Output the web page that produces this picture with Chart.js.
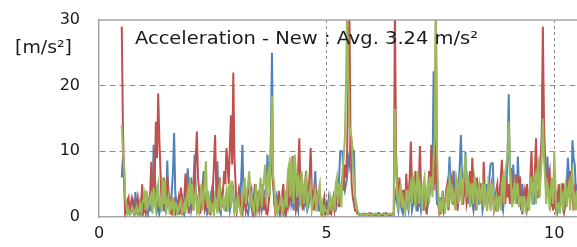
<!DOCTYPE html>
<html>
<head>
<meta charset="utf-8">
<script src="https://cdn.jsdelivr.net/npm/chart.js@4.4.0/dist/chart.umd.min.js"></script>
<style>
  html, body { margin: 0; padding: 0; background: #fff; }
  #chart { display: block; }
</style>
</head>
<body>
<canvas id="chart" width="577" height="247"></canvas>
<script>
// sample times [s]
const time = [
  0.5,0.525,0.55,0.575,0.6,0.625,0.65,0.675,0.7,0.725,0.75,0.775,0.8,0.825,0.85,0.875,0.9,0.925,0.95,0.975,
  1,1.025,1.05,1.075,1.1,1.125,1.15,1.175,1.2,1.225,1.25,1.275,1.3,1.325,1.35,1.375,1.4,1.425,1.45,1.475,1.5,1.525,1.55,1.575,1.6,1.625,1.65,1.675,1.7,1.725,1.75,1.775,1.8,1.825,1.85,1.875,1.9,1.925,1.95,1.975,
  2,2.025,2.05,2.075,2.1,2.125,2.15,2.175,2.2,2.225,2.25,2.275,2.3,2.325,2.35,2.375,2.4,2.425,2.45,2.475,2.5,2.525,2.55,2.575,2.6,2.625,2.65,2.675,2.7,2.725,2.75,2.775,2.8,2.825,2.85,2.875,2.9,2.925,2.95,2.975,
  3,3.025,3.05,3.075,3.1,3.125,3.15,3.175,3.2,3.225,3.25,3.275,3.3,3.325,3.35,3.375,3.4,3.425,3.45,3.475,3.5,3.525,3.55,3.575,3.6,3.625,3.65,3.675,3.7,3.725,3.75,3.775,3.8,3.825,3.85,3.875,3.9,3.925,3.95,3.975,
  4,4.025,4.05,4.075,4.1,4.125,4.15,4.175,4.2,4.225,4.25,4.275,4.3,4.325,4.35,4.375,4.4,4.425,4.45,4.475,4.5,4.525,4.55,4.575,4.6,4.625,4.65,4.675,4.7,4.725,4.75,4.775,4.8,4.825,4.85,4.875,4.9,4.925,4.95,4.975,
  5,5.025,5.05,5.075,5.1,5.125,5.15,5.175,5.2,5.225,5.25,5.275,5.3,5.325,5.35,5.375,5.4,5.425,5.45,5.475,5.5,5.525,5.55,5.575,5.6,5.625,5.65,5.675,5.7,5.725,5.75,5.775,5.8,5.825,5.85,5.875,5.9,5.925,5.95,5.975,
  6,6.025,6.05,6.075,6.1,6.125,6.15,6.175,6.2,6.225,6.25,6.275,6.3,6.325,6.35,6.375,6.4,6.425,6.45,6.475,6.5,6.525,6.55,6.575,6.6,6.625,6.65,6.675,6.7,6.725,6.75,6.775,6.8,6.825,6.85,6.875,6.9,6.925,6.95,6.975,
  7,7.025,7.05,7.075,7.1,7.125,7.15,7.175,7.2,7.225,7.25,7.275,7.3,7.325,7.35,7.375,7.4,7.425,7.45,7.475,7.5,7.525,7.55,7.575,7.6,7.625,7.65,7.675,7.7,7.725,7.75,7.775,7.8,7.825,7.85,7.875,7.9,7.925,7.95,7.975,
  8,8.025,8.05,8.075,8.1,8.125,8.15,8.175,8.2,8.225,8.25,8.275,8.3,8.325,8.35,8.375,8.4,8.425,8.45,8.475,8.5,8.525,8.55,8.575,8.6,8.625,8.65,8.675,8.7,8.725,8.75,8.775,8.8,8.825,8.85,8.875,8.9,8.925,8.95,8.975,
  9,9.025,9.05,9.075,9.1,9.125,9.15,9.175,9.2,9.225,9.25,9.275,9.3,9.325,9.35,9.375,9.4,9.425,9.45,9.475,9.5,9.525,9.55,9.575,9.6,9.625,9.65,9.675,9.7,9.725,9.75,9.775,9.8,9.825,9.85,9.875,9.9,9.925,9.95,9.975,
  10,10.025,10.05,10.075,10.1,10.125,10.15,10.175,10.2,10.225,10.25,10.275,10.3,10.325,10.35,10.375,10.4,10.425,10.45,10.475,10.5
];

// acceleration [m/s²]
const red = [
  29,14,6,0.5,1,2.5,3,0.6,2,3, 2.5,0.4,0.4,2,3,1,0.5,2,5,0.8,
  1.5,0.5,3,1.5,2,4,8.4,2,3,6, 14.5,9,18.8,12,7,2,4,6,2,0.5, 6,4,3,0.5,0.4,2,2.5,0.5,1,2, 3,0.4,4.5,2,0.3,3,6.6,3,2,0.5,
  4,6,3,1,5,9,13,6,4,0.5, 2,4,6,1,1.5,3,3,0.5,0.4,2, 4,8,12.5,5,3,1,6,3,1.5,4, 7,5,10.5,8,5,11,15.5,8,22,9,
  5,1,2,4,3,0.5,0.3,2,4,1, 2,4,6,2,1.5,0.4,3,5,1,2, 4,1,2,3.5,5,1,3,0.5,0.4,2, 4,7,11,5,3,0.5,1,2,4,1,
  2,3.5,5,1,0.3,3,6,2,3,6, 9.3,3,4,1,2,7,12,4,5,1, 3,5,7,2,4,6,10.5,4,3,1, 5,2,2,4,4,1,0.4,2,3,0.5,
  1,2,2.5,0.5,0.4,2,3,1,2,3, 4,1.5,3,5,6,4,8,6,10,20, 32,12,5,3,2,1,1,0.5,0.4,0.3, 0.3,0.4,0.5,0.3,0.3,0.4,0.4,0.5,0.6,0.4,
  0.3,0.3,0.4,0.5,0.3,0.4,0.5,0.3,0.4,0.3, 0.3,0.5,0.6,0.4,0.4,0.3,0.3,0.4,0.5,0.4, 32,10,5,3,6,2,2,4,4,1, 6.6,3,3,6,11.5,5,4,2,7,3,
  2,5,10.8,4,3,1,5,2,0.4,3, 7,4,11,6,4,8,32,6,3,0.5, 0.5,2,4,1,2,4,5,1,3,5, 6,2,2,4,5,1,3,6,4,2,
  2,4,6,2,3,5,7,3,9,5, 4,1,6,3,3,5,5,2,8.4,4, 3,1,5,3,2,5,4,1,2,4, 5,2,3,6,8.7,3,4,2,6,3,
  5,2,7.5,4,3,5,6.5,2,4,6, 6,2,0.4,3,4,2,5,1,3,6, 10,4,4,7,12,5,6,3,8,12, 29,14,9.3,3,4,6,7,2,3,1,
  4,2,0.5,3,5,2,3,5,5,1, 2,4,6,3,7,4,3,1,4,3,2
];
const blue = [
  6,9,8,1,1.5,0.5,0.5,1,1.5,2, 0.8,0.3,3.8,1,0.5,2,2.5,0.4,0.3,1,
  2,3,1,0.4,3,1,1,2,11,6, 4,1,2,0.5,1.5,3,3,1,1,2, 8.6,3,2,0.5,4,7,12.8,4,2,0.5, 0.5,1,2.5,3,1,0.4,3,5,7.4,3,
  3,1,2,5,9.5,4,3,1,1.5,2, 4,5,7,2,2,0.5,1,2,3,4, 5,2,2,4,8.5,3,1,0.5,3,2, 2,1,1,3,3.5,1,2,3,4,1,
  2,1,3,4,1.5,6,11,3,3,1, 1,0.4,2,3,4,1,0.5,2,2,1, 1,2,3,1,2,4,4,3,9.5,6, 5,12,25,6,2,1,3,2,1,0.4,
  2.5,1,0.5,2,3,1,2,4,5,2, 3,1,6,3,2,1,4,2,2,3, 5,2,3,1,1.5,3,4,2,2,4, 7,3,3,1,1,2,2,0.5,0.5,1,
  2,1,3,2,1,2,2.6,1,1,2, 3,6,10,10,10,5,4,5,6,9, 8,12,11.5,10,10,3,2,1,0.6,0.5, 0.4,0.3,0.3,0.5,0.5,0.4,0.4,0.3,0.3,0.5,
  0.5,0.4,0.4,0.3,0.3,0.6,0.6,0.4,0.3,0.3, 0.5,0.4,0.5,0.4,0.3,0.5,0.4,0.3,0.4,0.3, 4,3,2,1,3.9,2,1,0.5,2.5,1, 3,2,1,3,4,1,2,3,3,1,
  1,2,3,1,2,3,4,1,1,2, 3,4,7,5,22.2,8,6,2,2,1, 3,1,1,2,2,3,3,5,9.2,4, 4,2,7,3,3,2,5,8,12.5,6,
  6,4,9.9,5,4,2,5,3,2,1, 3,4,5,2,2,3,4,1,2,3, 5,2,3,6,8,8.2,8.2,3,3,1, 1,2,4,3,2,1,3,4,5,9,
  18.7,7,6,3,8,4,3,2,9.2,5, 3,1,5,2,2,3,1,2,3,4, 4,2,2,4,5,3,3,5,9,12, 21.7,10,8,4,9.2,5,4,2,2,3,
  3,2,4,1,2,4,4,2,1,2, 3,5,9,6,4,3,11.7,9,8,4,5
];
const green = [
  14,10,8,3,2,0.5,1,0.3,0.5,1.5, 1.2,0.3,0.8,1.5,0.4,1,2,0.5,2,2.5,
  3.5,1,4,1.5,2,3,3.5,0.5,4.5,2, 1,4,5,1.5,3,0.8,6,2,5.6,1, 2,3,0.5,2,1.5,3,0.8,2,2,0.5, 1,2,2.5,0.5,1,2,0.5,3,4,1.5,
  6,2,5,1,3,4,1,2,0.8,3, 5,1,3,6,8.5,2,4,0.5,2,1, 1.5,0.4,3,2,0.5,4,5,1,2.5,3, 1,3,4,0.8,4.5,5,1.5,5.5,3,1,
  2,0.5,3.5,2,1,0.4,2.5,4,6,2, 4,5,7,1.5,3,2,0.5,3,5,1, 2,4,6,1.5,4,6,8,2,6,7, 3,10,18.4,6,5,1,2,0.5,1.5,2,
  3,0.5,1,2,4,1.5,7,8,3,9, 6,2,9.5,7,3,6,5,1.5,7,5, 2,5,6,1,3,4,5,1,2,3, 4,0.8,3,4,5,1,2,0.5,1.5,1,
  1,0.4,2,3,1,3,3,1,5,6, 2,5,5,1.5,7,9,12,20,32,22, 14,13,12,8,6,3,1.5,1,0.5,0.4, 0.3,0.4,0.4,0.3,0.3,0.5,0.5,0.4,0.4,0.3,
  0.3,0.4,0.5,0.5,0.4,0.3,0.3,0.4,0.4,0.5, 0.6,0.4,0.3,0.3,0.4,0.4,0.5,0.4,0.3,0.3, 16.5,7,4,1,3,5,1.5,3,2,0.5, 4,4,1,4,5,2,6,5,1.5,5,
  7,2,5,4,1,5,6,1.5,4,5, 2,6,6,3,9,12,32,10,4,1, 2,0.5,3,2,0.5,3,4,1.5,6,5, 2,4,3,1,6,5,2,6,7,2,
  5,7,9.5,3,6,5,1.5,5,5,2, 6,5,1,4,5,2,4,5,1.5,5, 3,1,5,4,1,5,5,1,2,3, 0.8,3,3,1,5,6,2,7,8,10,
  14.5,8,5,1.5,4,5,2,5,5,1.5, 3,3,0.8,3,3,0.5,2,3,1,6, 6,2,5,6,2,7,8,3,6,9, 15,9,6,2,5,4,1,4,6,2,
  10,5,1,2,2,0.5,4,3,1,4, 5,1.5,4,5,1,6,7,2,3,1,4
];

const xTicks = [0, 5, 10];
const yTicks = [0, 10, 20, 30];
const titleText = 'Acceleration - New : Avg. 3.24 m/s²';
const unitText = '[m/s²]';

function pts(values) {
  return values.map((v, i) => ({ x: time[i], y: v }));
}

const textColor = '#1a1a1a';
const gridColor = '#8c8c8c';
const axisColor = '#a6a6a6';

// draws text stretched to a given width (the source font is wider than DejaVu)
function stretchText(ctx, text, x, y, width) {
  const w = ctx.measureText(text).width;
  ctx.save();
  ctx.translate(x, y);
  ctx.scale(width / w, 1);
  ctx.fillText(text, 0, 0);
  ctx.restore();
}

// top frame line + texts inside the plot
const frame = {
  id: 'frame',
  afterDraw(chart) {
    const { ctx, chartArea: a } = chart;
    ctx.save();
    ctx.strokeStyle = axisColor;
    ctx.lineWidth = 1.5;
    ctx.beginPath();
    ctx.moveTo(a.left, a.top);
    ctx.lineTo(a.right, a.top);
    ctx.stroke();

    ctx.fillStyle = textColor;
    ctx.font = '17px "DejaVu Sans"';
    ctx.textBaseline = 'alphabetic';
    stretchText(ctx, titleText, 135, 44, 343);
    stretchText(ctx, unitText, 15, 53, 57);
    ctx.restore();
  }
};

new Chart(document.getElementById('chart'), {
  type: 'line',
  data: {
    datasets: [
      { label: 'green', data: pts(green), borderColor: '#9bbb59' },
      { label: 'red', data: pts(red), borderColor: '#c0504d' },
      { label: 'blue', data: pts(blue), borderColor: '#4f81bd' }
    ]
  },
  options: {
    responsive: false,
    animation: false,
    elements: {
      point: { radius: 0 },
      line: { borderWidth: 2, tension: 0 }
    },
    plugins: {
      legend: { display: false },
      tooltip: { enabled: false }
    },
    layout: { padding: { top: 20, right: 0, bottom: 0, left: 0 } },
    scales: {
      x: {
        type: 'linear',
        min: 0,
        max: 10.5,
        afterFit: s => { s.height = 30; },
        afterBuildTicks: s => { s.ticks = xTicks.map(v => ({ value: v })); },
        ticks: {
          padding: 7,
          maxRotation: 0,
          color: textColor,
          font: { family: 'DejaVu Sans', size: 16 }
        },
        grid: {
          drawTicks: false,
          lineWidth: 1,
          color: c => (c.tick && (c.tick.value === 5 || c.tick.value === 10)) ? gridColor : 'transparent'
        },
        border: { color: axisColor, width: 1.5, dash: [3, 3] }
      },
      y: {
        min: 0,
        max: 30,
        afterFit: s => { s.width = 99; s.paddingTop = 0; s.paddingBottom = 0; },
        afterBuildTicks: s => { s.ticks = yTicks.map(v => ({ value: v })); },
        ticks: {
          padding: 19,
          color: textColor,
          font: { family: 'DejaVu Sans', size: 16 }
        },
        grid: {
          drawTicks: false,
          lineWidth: 1,
          color: c => (c.tick && (c.tick.value === 10 || c.tick.value === 20)) ? gridColor : 'transparent'
        },
        border: { color: axisColor, width: 1.5, dash: [6, 4] }
      }
    }
  },
  plugins: [frame]
});
</script>
</body>
</html>
